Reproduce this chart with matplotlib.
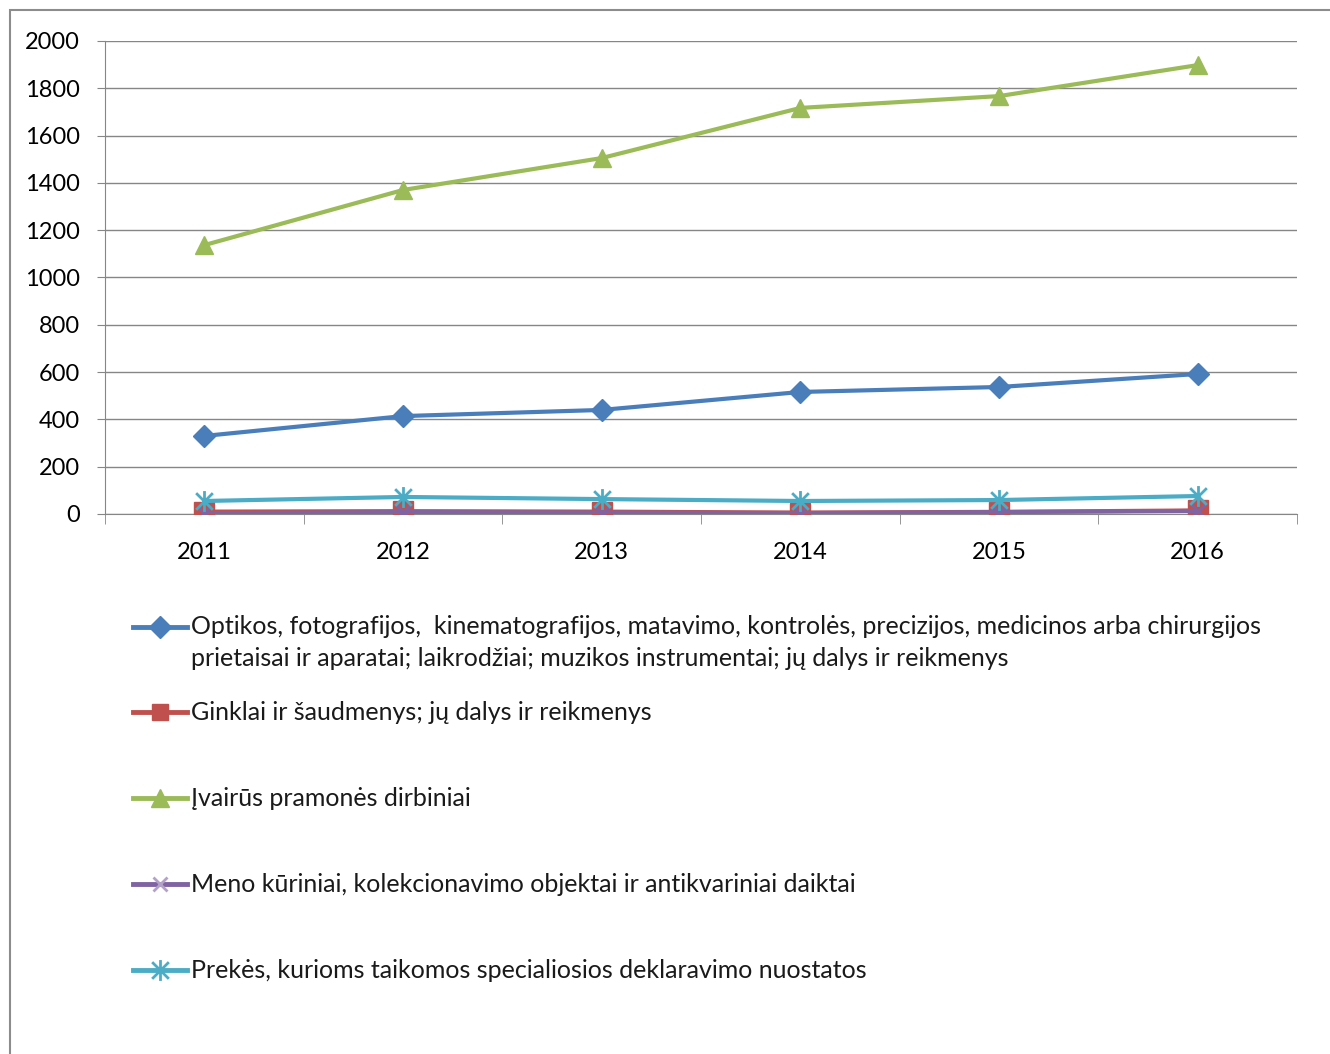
import numpy as np
import matplotlib.pyplot as plt
from matplotlib.patches import Rectangle
from matplotlib.lines import Line2D
from matplotlib.path import Path

plt.rcParams['font.family'] = ['Lato', 'DejaVu Sans']

metai = ['2011', '2012', '2013', '2014', '2015', '2016']

optika = [330, 414, 440, 516, 537, 592]
ginklai = [10, 12, 10, 6, 9, 15]
pramone = [1137, 1370, 1505, 1717, 1767, 1898]
menas = [3, 8, 6, 4, 8, 13]
prekes = [55, 72, 63, 55, 59, 76]

pavadinimai = [
    "Optikos, fotografijos,  kinematografijos, matavimo, kontrolės, precizijos, medicinos arba chirurgijos\nprietaisai ir aparatai; laikrodžiai; muzikos instrumentai; jų dalys ir reikmenys",
    "Ginklai ir šaudmenys; jų dalys ir reikmenys",
    "Įvairūs pramonės dirbiniai",
    "Meno kūriniai, kolekcionavimo objektai ir antikvariniai daiktai",
    "Prekės, kurioms taikomos specialiosios deklaravimo nuostatos",
]

# zvaigzdute: vertikali linija ir X
zv = Path([(0, -1), (0, 1), (-0.8, -0.8), (0.8, 0.8), (-0.8, 0.8), (0.8, -0.8)],
          [Path.MOVETO, Path.LINETO, Path.MOVETO, Path.LINETO, Path.MOVETO, Path.LINETO])

spalvos = ['#4A7EBB', '#C0504D', '#9BBB59', '#8064A2', '#4BACC6']
markeriai = ['D', 's', '^', 'x', zv]
dydziai = [11, 15, 13, 10, 15]

fig = plt.figure(figsize=(13.3, 10.54), dpi=100)
# remelis
fig.add_artist(Rectangle((10 / 1330, -0.1), 1.2, 1 - 10 / 1054 + 0.1, transform=fig.transFigure,
                         fill=False, edgecolor='#8c8c8c', linewidth=1.5))

ax = fig.add_axes([105 / 1330, 1 - 514 / 1054, (1297 - 105) / 1330, (514 - 41) / 1054])

x = np.arange(len(metai))
duomenys = [optika, ginklai, pramone, menas, prekes]
for i in range(len(duomenys)):
    ax.plot(x, duomenys[i], color=spalvos[i], linewidth=3, marker=markeriai[i],
            markersize=dydziai[i], markeredgewidth=2 if i >= 3 else 1,
            markeredgecolor=spalvos[i], markerfacecolor=spalvos[i] if i < 3 else 'none',
            zorder=3)

ax.set_xlim(-0.5, 5.5)
ax.set_ylim(0, 2000)
ax.set_yticks(np.arange(0, 2001, 200))
ax.set_xticks(x)
ax.set_xticklabels(metai)
ax.set_xticks(np.arange(-0.5, 6, 1), minor=True)
ax.tick_params(axis='x', which='major', length=0, labelsize=17, pad=20)
ax.tick_params(axis='x', which='minor', length=7, color='#868686', direction='out')
ax.tick_params(axis='y', length=6, color='#868686', labelsize=17, pad=12)
ax.grid(axis='y', color='#868686', linewidth=1)
ax.set_axisbelow(True)
for s in ['top', 'right']:
    ax.spines[s].set_visible(False)
for s in ['left', 'bottom']:
    ax.spines[s].set_color('#868686')

# legenda
lax = fig.add_axes([0, 0, 1, 1])
lax.set_xlim(0, 1330)
lax.set_ylim(1054, 0)
lax.axis('off')
eilutes = [627, 712, 798, 884, 970]
for i in range(len(pavadinimai)):
    yy = eilutes[i]
    lax.add_line(Line2D([133, 187], [yy, yy], color=spalvos[i], linewidth=3.5))
    lax.add_line(Line2D([160], [yy], marker=markeriai[i], markersize=dydziai[i] if i != 1 else 12,
                        color=spalvos[i], markeredgewidth=2 if i >= 3 else 1,
                        markerfacecolor=spalvos[i] if i < 3 else 'none',
                        markeredgecolor=spalvos[i] if i != 3 else '#B3A2C7'))
    if i == 0:
        lax.text(191, yy, pavadinimai[i].split('\n')[0], fontsize=18, va='center', ha='left',
                 color='#1a1a1a')
        lax.text(191, yy + 31, pavadinimai[i].split('\n')[1], fontsize=18, va='center',
                 ha='left', color='#1a1a1a')
    else:
        lax.text(191, yy, pavadinimai[i], fontsize=18, va='center', ha='left', color='#1a1a1a')

fig.savefig('out.png', dpi=100)
